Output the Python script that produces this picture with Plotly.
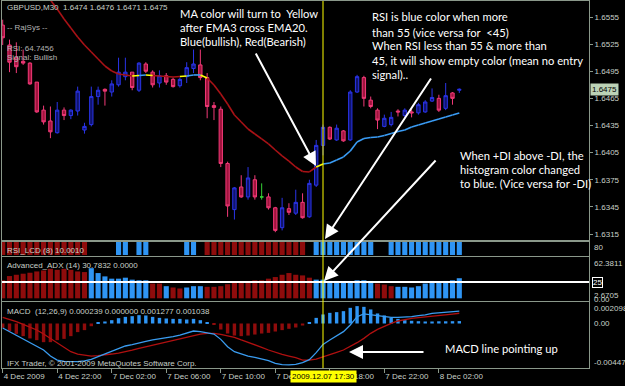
import plotly.graph_objects as go

# ---------------- data ----------------
symbol = "GBPUSD,M30"
time_labels = ["4 Dec 2009", "4 Dec 22:00", "7 Dec 02:00", "7 Dec 06:00", "7 Dec 10:00",
               "7 Dec 14:00", "7 Dec 18:00", "7 Dec 22:00", "8 Dec 02:00"]
time_label_bars = [0, 8, 16, 24, 32, 40, 48, 56, 64]
cursor_bar = 47
cursor_label = "2009.12.07 17:30"

opens = [1.6546, 1.6524, 1.6510, 1.6506, 1.6504, 1.6483, 1.6452, 1.6440, 1.6427, 1.6452,
         1.6446, 1.6451, 1.6430, 1.6436, 1.6467, 1.6475, 1.6472, 1.6480, 1.6489, 1.6494,
         1.6474, 1.6503, 1.6494, 1.6482, 1.6490, 1.6486, 1.6479, 1.6489, 1.6498, 1.6502,
         1.6488, 1.6457, 1.6453, 1.6393, 1.6342, 1.6367, 1.6356, 1.6375, 1.6356, 1.6356,
         1.6344, 1.6322, 1.6343, 1.6338, 1.6350, 1.6334, 1.6369, 1.6413, 1.6433, 1.6419,
         1.6429, 1.6419, 1.6472, 1.6488, 1.6463, 1.6452, 1.6434, 1.6436, 1.6451, 1.6446,
         1.6450, 1.6449, 1.6450, 1.6462, 1.6465, 1.6454, 1.6471, 1.6474]
highs = [1.6552, 1.6530, 1.6527, 1.6519, 1.6505, 1.6483, 1.6457, 1.6456, 1.6461, 1.6455,
         1.6453, 1.6478, 1.6438, 1.6478, 1.6478, 1.6476, 1.6485, 1.6510, 1.6510, 1.6494,
         1.6505, 1.6505, 1.6496, 1.6496, 1.6493, 1.6488, 1.6488, 1.6505, 1.6519, 1.6519,
         1.6493, 1.6461, 1.6456, 1.6395, 1.6367, 1.6380, 1.6389, 1.6380, 1.6371, 1.6360,
         1.6345, 1.6355, 1.6349, 1.6364, 1.6360, 1.6375, 1.6419, 1.6436, 1.6434, 1.6436,
         1.6430, 1.6474, 1.6491, 1.6490, 1.6467, 1.6454, 1.6447, 1.6450, 1.6453, 1.6454,
         1.6453, 1.6460, 1.6463, 1.6476, 1.6469, 1.6482, 1.6472, 1.6476]
lows = [1.6524, 1.6494, 1.6493, 1.6502, 1.6480, 1.6449, 1.6436, 1.6421, 1.6426, 1.6441,
        1.6442, 1.6446, 1.6426, 1.6434, 1.6458, 1.6457, 1.6467, 1.6478, 1.6485, 1.6474,
        1.6472, 1.6493, 1.6477, 1.6477, 1.6480, 1.6477, 1.6477, 1.6482, 1.6493, 1.6485,
        1.6443, 1.6441, 1.6389, 1.6334, 1.6331, 1.6355, 1.6353, 1.6353, 1.6353, 1.6342,
        1.6317, 1.6319, 1.6336, 1.6336, 1.6332, 1.6333, 1.6367, 1.6402, 1.6419, 1.6418,
        1.6417, 1.6418, 1.6471, 1.6456, 1.6454, 1.6431, 1.6433, 1.6434, 1.6445, 1.6443,
        1.6444, 1.6447, 1.6449, 1.6461, 1.6450, 1.6452, 1.6458, 1.6471]
closes = [1.6532, 1.6505, 1.6500, 1.6504, 1.6481, 1.6450, 1.6439, 1.6428, 1.6452, 1.6446,
          1.6452, 1.6473, 1.6434, 1.6467, 1.6474, 1.6473, 1.6481, 1.6494, 1.6494, 1.6477,
          1.6504, 1.6495, 1.6480, 1.6490, 1.6483, 1.6478, 1.6486, 1.6499, 1.6503, 1.6488,
          1.6456, 1.6455, 1.6393, 1.6346, 1.6366, 1.6356, 1.6377, 1.6356, 1.6356, 1.6344,
          1.6319, 1.6344, 1.6339, 1.6350, 1.6333, 1.6371, 1.6413, 1.6433, 1.6420, 1.6432,
          1.6418, 1.6472, 1.6489, 1.6465, 1.6456, 1.6441, 1.6443, 1.6444, 1.6450, 1.6452,
          1.6449, 1.6458, 1.6461, 1.6466, 1.6452, 1.6468, 1.6465, 1.6475]

ma20 = [1.66435, 1.66335, 1.66236, 1.66136, 1.66037, 1.65937, 1.65838, 1.65738, 1.65638, 1.65528,
        1.65428, 1.65329, 1.65240, 1.65163, 1.65085, 1.65008, 1.64953, 1.64920, 1.64909, 1.64898,
        1.64903, 1.64909, 1.64903, 1.64898, 1.64892, 1.64886, 1.64892, 1.64898, 1.64909, 1.64909,
        1.64875, 1.64798, 1.64698, 1.64588, 1.64466, 1.64389, 1.64311, 1.64256, 1.64201, 1.64146,
        1.64079, 1.64013, 1.63957, 1.63891, 1.63841, 1.63836, 1.63891, 1.63924, 1.63935, 1.63968,
        1.64002, 1.64068, 1.64168, 1.64206, 1.64217, 1.64223, 1.64239, 1.64261, 1.64284, 1.64300,
        1.64334, 1.64356, 1.64378, 1.64400, 1.64422, 1.64444, 1.64466, 1.64488]
# r = bearish, y = cross, b = bullish (colour of the segment ending at each bar)
ma_state = list("rrrrrrrrrrrrrrrrrrrr" "yby" "rrrr" "ybby" "rrrrrrrrrrrrrrrr" "y" "bbbbbbbbbbbbbbbbbbbb")

price_ticks = [1.6555, 1.6525, 1.6495, 1.6465, 1.6435, 1.6405, 1.6375, 1.6345, 1.6315]

rsi_signal = [-1, -1, -1, -1, -1, -1, -1, -1, -1, -1, -1, -1, -1, 0, 0, 0, 0, 1, 1, 0,
              1, 1, 0, 0, 0, 0, 0, 1, 1, 0, -1, -1, -1, -1, -1, -1, -1, -1, -1, -1,
              -1, -1, -1, -1, -1, 0, 1, 1, 1, 1, 1, 1, 1, 1, 1, 0, 0, 1, 1, 1,
              1, 1, 1, 1, 1, 1, 1, 1]

adx = [27.6, 34.1, 36.1, 37.7, 39.2, 41.2, 42.7, 45.2, 43.7, 45.2,
       43.7, 41.2, 40.2, 46.2, 38.7, 33.6, 30.1, 30.1, 31.6, 28.6,
       27.6, 27.6, 22.6, 22.6, 18.6, 16.6, 15.1, 16.6, 18.6, 18.6,
       17.6, 17.6, 18.6, 21.6, 23.6, 25.1, 26.6, 27.6, 27.6, 30.1,
       32.6, 36.1, 38.7, 36.1, 35.1, 31.6, 28.6, 28.6, 26.6, 26.6,
       25.1, 25.1, 27.6, 27.6, 26.6, 22.6, 21.1, 18.6, 17.6, 17.6,
       16.6, 18.6, 22.6, 26.6, 25.1, 26.6, 27.6, 30.8]
adx_dir = [-1, -1, -1, -1, -1, -1, -1, -1, -1, -1, -1, -1, -1, 1, 1, 1, 1, 1, 1, 1,
           1, 1, -1, -1, 1, -1, -1, 1, 1, 1, -1, -1, -1, -1, -1, -1, -1, -1, -1, -1,
           -1, -1, -1, -1, -1, -1, 1, 1, 1, 1, 1, 1, 1, 1, 1, -1, -1, -1, 1, 1,
           1, 1, 1, 1, 1, 1, 1, 1]
adx_level = 25

macd_hist = [-0.00043, -0.00076, -0.00103, -0.00126, -0.00149, -0.00166, -0.00186, -0.00186, -0.00166, -0.00153,
             -0.00126, -0.00086, -0.00066, -0.00027, 0.00007, 0.00020, 0.00033, 0.00053, 0.00066, 0.00073,
             0.00083, 0.00080, 0.00066, 0.00056, 0.00050, 0.00046, 0.00046, 0.00040, 0.00046, 0.00033,
             0.00013, -0.00007, -0.00060, -0.00100, -0.00120, -0.00126, -0.00120, -0.00110, -0.00100, -0.00093,
             -0.00080, -0.00066, -0.00053, -0.00040, -0.00020, 0.00008, 0.00056, 0.00090, 0.00106, 0.00113,
             0.00123, 0.00156, 0.00173, 0.00166, 0.00140, 0.00100, 0.00080, 0.00056, 0.00046, 0.00033,
             0.00027, 0.00023, 0.00020, 0.00020, 0.00022, 0.00022, 0.00023, 0.00024]
macd_line = [-0.00045, -0.00081, -0.00118, -0.00154, -0.00188, -0.00224, -0.00264, -0.00324, -0.00364, -0.00377,
             -0.00380, -0.00380, -0.00373, -0.00357, -0.00330, -0.00304, -0.00274, -0.00247, -0.00224, -0.00211,
             -0.00191, -0.00178, -0.00164, -0.00154, -0.00141, -0.00131, -0.00115, -0.00098, -0.00075, -0.00081,
             -0.00091, -0.00105, -0.00158, -0.00231, -0.00281, -0.00304, -0.00324, -0.00337, -0.00350, -0.00370,
             -0.00397, -0.00410, -0.00413, -0.00407, -0.00390, -0.00360, -0.00290, -0.00208, -0.00164, -0.00125,
             -0.00081, -0.00015, 0.00068, 0.00095, 0.00085, 0.00075, 0.00068, 0.00061, 0.00061, 0.00061,
             0.00068, 0.00078, 0.00085, 0.00100, 0.00105, 0.00112, 0.00118, 0.00124]
macd_signal = [0.00061, 0.00041, 0.00018, -0.00008, -0.00035, -0.00065, -0.00105, -0.00148, -0.00198, -0.00241,
               -0.00281, -0.00304, -0.00317, -0.00324, -0.00320, -0.00314, -0.00304, -0.00294, -0.00281, -0.00264,
               -0.00247, -0.00231, -0.00214, -0.00198, -0.00181, -0.00164, -0.00148, -0.00131, -0.00118, -0.00105,
               -0.00098, -0.00098, -0.00108, -0.00125, -0.00138, -0.00164, -0.00191, -0.00214, -0.00237, -0.00264,
               -0.00287, -0.00307, -0.00324, -0.00340, -0.00365, -0.00365, -0.00355, -0.00330, -0.00307, -0.00287,
               -0.00264, -0.00231, -0.00191, -0.00148, -0.00098, -0.00058, -0.00025, 0.00002, 0.00025, 0.00041,
               0.00051, 0.00058, 0.00064, 0.00070, 0.00078, 0.00086, 0.00094, 0.00102]

# ---------------- styling ----------------
W, H = 625, 386
ML, MR, MT, MB = 2, 36, 1, 18
PW, PH = W - ML - MR, H - MT - MB


def px(x):
    return (x - ML) / PW


def py(y):
    return (H - MB - y) / PH


BULL_LINE, BULL_FILL = "#2a34e8", "#10146e"
BEAR_LINE, BEAR_FILL = "#f23a78", "#a0133d"
DOJI = "#35d035"
BLUE, RED = "#2f95f4", "#8f0c0c"
FG, FRAME = "#c8d0c8", "#8a988a"
SMALL = "Liberation Sans, Arial, sans-serif"
BIG = "Lato, Liberation Sans, sans-serif"

n = len(opens)
bars = list(range(n))
normal = [i for i in bars if opens[i] != closes[i]]
doji = [i for i in bars if opens[i] == closes[i]]

fig = go.Figure()

fig.add_trace(go.Candlestick(
    x=normal, open=[opens[i] for i in normal], high=[highs[i] for i in normal],
    low=[lows[i] for i in normal], close=[closes[i] for i in normal],
    increasing=dict(line=dict(color=BULL_LINE, width=1), fillcolor=BULL_FILL),
    decreasing=dict(line=dict(color=BEAR_LINE, width=1), fillcolor=BEAR_FILL),
    xaxis="x", yaxis="y", hoverinfo="skip"))
fig.add_trace(go.Candlestick(
    x=doji, open=[opens[i] for i in doji], high=[highs[i] for i in doji],
    low=[lows[i] for i in doji], close=[closes[i] for i in doji],
    increasing=dict(line=dict(color=DOJI, width=1), fillcolor=DOJI),
    decreasing=dict(line=dict(color=DOJI, width=1), fillcolor=DOJI),
    xaxis="x", yaxis="y", hoverinfo="skip"))

ma_colors = {"r": "#a81216", "y": "#ffff00", "b": "#3a9cf5"}
for key in ["r", "y", "b"]:
    xs, ys = [], []
    for i in range(1, n):
        if ma_state[i] == key:
            xs += [i - 1, i, None]
            ys += [ma20[i - 1], ma20[i], None]
    fig.add_trace(go.Scatter(x=xs, y=ys, mode="lines", line=dict(color=ma_colors[key], width=1.6),
                             xaxis="x", yaxis="y", hoverinfo="skip"))

rsi_x = [i for i in bars if rsi_signal[i] != 0]
fig.add_trace(go.Bar(x=rsi_x, y=[1] * len(rsi_x), width=0.75,
                     marker=dict(color=[BLUE if rsi_signal[i] > 0 else RED for i in rsi_x], line=dict(width=0)),
                     xaxis="x2", yaxis="y2", hoverinfo="skip"))

fig.add_trace(go.Bar(x=bars, y=adx, width=0.75,
                     marker=dict(color=[BLUE if d > 0 else RED for d in adx_dir], line=dict(width=0)),
                     xaxis="x3", yaxis="y3", hoverinfo="skip"))

fig.add_trace(go.Bar(x=bars, y=macd_hist, width=0.5,
                     marker=dict(color=[BLUE if v > 0 else RED for v in macd_hist], line=dict(width=0)),
                     xaxis="x4", yaxis="y4", hoverinfo="skip"))
fig.add_trace(go.Scatter(x=bars, y=macd_signal, mode="lines", line=dict(color="#b01010", width=1.3),
                         xaxis="x4", yaxis="y4", hoverinfo="skip"))
fig.add_trace(go.Scatter(x=bars, y=macd_line, mode="lines", line=dict(color="#3a9cf0", width=1.3),
                         xaxis="x4", yaxis="y4", hoverinfo="skip"))

xr = [(ML - 2.7) / 6.815, (W - MR - 2.7) / 6.815]
xbase = dict(range=xr, showgrid=False, zeroline=False, showline=True, mirror=True,
             linecolor=FRAME, linewidth=1, fixedrange=True)
ybase = dict(showgrid=False, zeroline=False, showline=True, mirror=True,
             linecolor=FRAME, linewidth=1, fixedrange=True, side="right")

main_bottom = 1.65738 - 0.0001106 * 240
main_top = 1.65738 - 0.0001106 * 1

fig.update_layout(
    width=W, height=H, margin=dict(l=ML, r=MR, t=MT, b=MB),
    paper_bgcolor="black", plot_bgcolor="black", showlegend=False,
    xaxis=dict(**xbase, anchor="y", showticklabels=False, ticks="", rangeslider=dict(visible=False)),
    xaxis2=dict(**xbase, anchor="y2", matches="x", showticklabels=False, ticks=""),
    xaxis3=dict(**xbase, anchor="y3", matches="x", showticklabels=False, ticks=""),
    xaxis4=dict(**xbase, anchor="y4", matches="x", tickmode="array", tickvals=time_label_bars,
                ticktext=time_labels, ticks="outside", ticklen=4, tickcolor=FRAME,
                ticklabelposition="outside right",
                tickfont=dict(family=SMALL, size=8, color=FG)),
    yaxis=dict(**ybase, domain=[py(240), 1], range=[main_bottom, main_top], anchor="x",
               tickmode="array", tickvals=price_ticks, ticktext=[f"{t:.4f}" for t in price_ticks],
               ticks="outside", ticklen=3, tickcolor=FRAME,
               tickfont=dict(family=SMALL, size=8, color=FG)),
    yaxis2=dict(**ybase, domain=[py(255.5), py(241.5)], range=[-0.04, 1.04], anchor="x2",
                showticklabels=False, ticks=""),
    yaxis3=dict(**ybase, domain=[py(301), py(257)], range=[-4.1, 63.3], anchor="x3",
                showticklabels=False, ticks=""),
    yaxis4=dict(**ybase, domain=[0, py(302)], range=[-0.004432, 0.002141], anchor="x4",
                showticklabels=False, ticks=""),
)

shapes = [
    dict(type="line", xref="paper", x0=0, x1=1, yref="y3", y0=adx_level, y1=adx_level,
         line=dict(color="white", width=2)),
    dict(type="line", xref="x", x0=cursor_bar, x1=cursor_bar, yref="paper", y0=0, y1=1,
         line=dict(color="#ffff00", width=1)),
]
fig.update_layout(shapes=shapes)

ann = []


def label(text, x, y, color=FG, size=8, family=SMALL, **kw):
    ann.append(dict(text=text, xref="paper", yref="paper", x=px(x), y=py(y), xanchor="left",
                    yanchor="middle", showarrow=False, font=dict(family=family, size=size, color=color), **kw))


label(f"{symbol}  {opens[-1]:.4f} {highs[-1]:.4f} {lows[-1]:.4f} {closes[-1]:.4f}", 5, 8)
label("-- RajSys --", 5, 28, color="#b4b4b4")
label("RSI: 64.7456", 5, 48, color="#b4b4b4")
label("Signal: Bullish", 5, 58, color="#b4b4b4")
label("RSI_LCD (8) 10.0010", 5, 250)
label("Advanced_ADX (14) 30.7832 0.0000", 5, 265)
label("MACD  (12,26,9) 0.000239 0.000000 0.001277 0.001038", 5, 311)
label("IFX Trader, © 2001-2009 MetaQuotes Software Corp.", 5, 363)

label("80", 592, 247)
label("62.3811", 592, 263)
label("2.6705", 592, 295)
label("0.00", 592, 299)
label("0.002098", 592, 308)
label("0.00", 592, 323)
label("-0.004475", 592, 362)
label(f"{adx_level}", 592, 282, color="white", bgcolor="black", bordercolor="white", borderwidth=1, borderpad=0)
ann.append(dict(text=f"{closes[-1]:.4f}", xref="paper", yref="y", x=px(590), y=closes[-1], xanchor="left",
                yanchor="middle", showarrow=False, bgcolor="#bcd2b6", borderpad=1,
                font=dict(family=SMALL, size=8, color="black")))
label(cursor_label, 290, 376, color="black", bgcolor="#ffff00", borderpad=1)

notes = [
    (178, [13, 27.5, 42], ["MA color will turn to  Yellow", "after EMA3 cross EMA20.",
                           "Blue(bullish), Red(Bearish)"]),
    (370, [17, 32, 45.5, 60, 74], ["RSI is blue color when more", "than 55 (vice versa for  &lt;45)",
                                   "When RSI less than 55 &amp; more than",
                                   "45, it will show empty color (mean no entry", "signal).."]),
    (458, [155, 169, 183], ["When +DI above -DI, the", "histogram color changed",
                            "to blue. (Vice versa for -DI)"]),
    (443, [348], ["MACD line pointing up"]),
]
for x0, ys, lines in notes:
    for yy, t in zip(ys, lines):
        label(t, x0, yy, color="white", size=11.2, family=BIG)

arrows = [((316, 166), (255, 52)), ((325, 239), (432, 77)), ((324, 281), (437, 159)), ((349, 352), (425, 352))]
for (tx, ty), (sx, sy) in arrows:
    ann.append(dict(text="", xref="paper", yref="paper", x=px(tx), y=py(ty), ax=sx - tx, ay=sy - ty,
                    showarrow=True, arrowhead=2, arrowsize=1.4, arrowwidth=2, arrowcolor="white"))

fig.update_layout(annotations=ann)
fig.write_html("out.html", config={"displayModeBar": False})
